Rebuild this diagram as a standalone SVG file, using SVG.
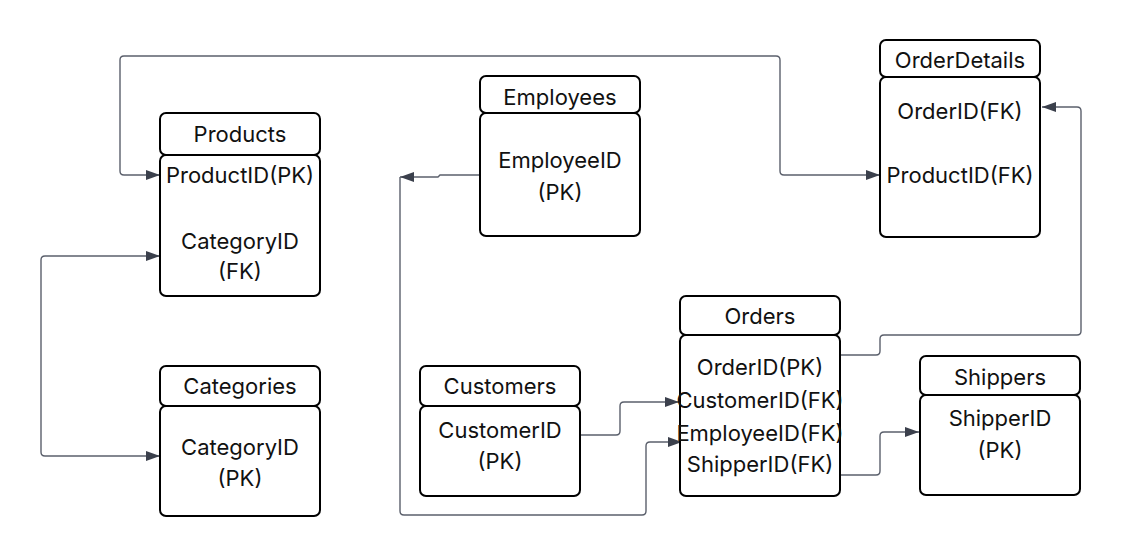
<svg xmlns="http://www.w3.org/2000/svg" width="1121" height="556" viewBox="0 0 1121 556">
<style>
.box{fill:#fff;stroke:#000;stroke-width:2}
.t{font-family:Inter,"Liberation Sans",sans-serif;font-size:22px;fill:#111;text-anchor:middle;dominant-baseline:central}
.c{fill:none;stroke:#5b606c;stroke-width:1.4}
</style>
<defs>
<marker id="ah" markerUnits="userSpaceOnUse" markerWidth="16" markerHeight="12" refX="14" refY="6" orient="auto-start-reverse" viewBox="0 0 16 12">
<path d="M0,1 L14,6 L0,11 z" fill="#3b404c"/>
</marker>
</defs>
<rect width="1121" height="556" fill="#fff"/>
<g id="connectors">
<path class="c" d="M160,175 L124,175 Q120,175 120,171 L120,60 Q120,56 124,56 L776,56 Q780,56 780,60 L780,171 Q780,175 784,175 L880,175" marker-start="url(#ah)" marker-end="url(#ah)"/>
<path class="c" d="M160,256 L45,256 Q41,256 41,260 L41,452 Q41,456 45,456 L160,456" marker-start="url(#ah)" marker-end="url(#ah)"/>
<path class="c" d="M480,175 L440,175 L438,177 L400,177" marker-end="url(#ah)"/>
<path class="c" d="M400,177 L400,511 Q400,515 404,515 L642,515 Q646,515 646,511 L646,446 Q646,442 650,442 L682,442" marker-end="url(#ah)"/>
<path class="c" d="M580,435 L616,435 Q620,435 620,431 L620,406 Q620,402 624,402 L679,402" marker-end="url(#ah)"/>
<path class="c" d="M840,355 L876,355 Q880,355 880,351 L880,339 Q880,335 884,335 L1077,335 Q1081,335 1081,331 L1081,111 Q1081,107 1077,107 L1042,107" marker-end="url(#ah)"/>
<path class="c" d="M840,475 L876,475 Q880,475 880,471 L880,436 Q880,432 884,432 L919,432" marker-end="url(#ah)"/>
</g>
<g id="products">
<rect class="box" x="160" y="113" width="160" height="42" rx="6"/>
<rect class="box" x="160" y="155" width="160" height="141" rx="6"/>
<text class="t" x="240" y="134">Products</text>
<text class="t" x="240" y="175">ProductID(PK)</text>
<text class="t" x="240" y="241">CategoryID</text>
<text class="t" x="240" y="271">(FK)</text>
</g>
<g id="categories">
<rect class="box" x="160" y="366" width="160" height="40" rx="6"/>
<rect class="box" x="160" y="406" width="160" height="110" rx="6"/>
<text class="t" x="240" y="386">Categories</text>
<text class="t" x="240" y="447">CategoryID</text>
<text class="t" x="240" y="478">(PK)</text>
</g>
<g id="employees">
<rect class="box" x="480" y="76" width="160" height="37" rx="6"/>
<rect class="box" x="480" y="113" width="160" height="123" rx="6"/>
<text class="t" x="560" y="97">Employees</text>
<text class="t" x="560" y="160">EmployeeID</text>
<text class="t" x="560" y="192">(PK)</text>
</g>
<g id="orderdetails">
<rect class="box" x="880" y="40" width="160" height="37" rx="6"/>
<rect class="box" x="880" y="77" width="160" height="160" rx="6"/>
<text class="t" x="960" y="60">OrderDetails</text>
<text class="t" x="960" y="111">OrderID(FK)</text>
<text class="t" x="960" y="175">ProductID(FK)</text>
</g>
<g id="customers">
<rect class="box" x="420" y="366" width="160" height="40" rx="6"/>
<rect class="box" x="420" y="406" width="160" height="90" rx="6"/>
<text class="t" x="500" y="386">Customers</text>
<text class="t" x="500" y="430">CustomerID</text>
<text class="t" x="500" y="461">(PK)</text>
</g>
<g id="orders">
<rect class="box" x="680" y="296" width="160" height="39" rx="6"/>
<rect class="box" x="680" y="335" width="160" height="161" rx="6"/>
<text class="t" x="760" y="316">Orders</text>
<text class="t" x="760" y="367">OrderID(PK)</text>
<text class="t" x="760" y="400">CustomerID(FK)</text>
<text class="t" x="760" y="433">EmployeeID(FK)</text>
<text class="t" x="760" y="464">ShipperID(FK)</text>
</g>
<g id="shippers">
<rect class="box" x="920" y="356" width="160" height="39" rx="6"/>
<rect class="box" x="920" y="395" width="160" height="100" rx="6"/>
<text class="t" x="1000" y="377">Shippers</text>
<text class="t" x="1000" y="418">ShipperID</text>
<text class="t" x="1000" y="450">(PK)</text>
</g>
</svg>
